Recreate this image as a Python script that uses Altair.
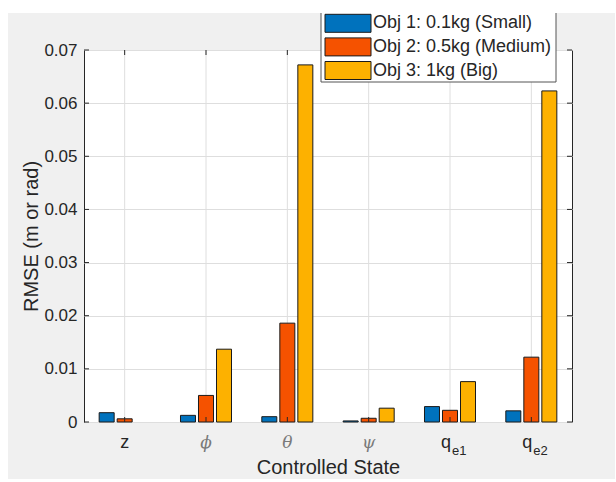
import altair as alt
import pandas as pd

# Controlled states and RMSE per object
states = ["z", "phi", "theta", "psi", "qe1", "qe2"]
series = ["Obj 1: 0.1kg (Small)", "Obj 2: 0.5kg (Medium)", "Obj 3: 1kg (Big)"]
obj1 = [0.00175, 0.00125, 0.0010, 0.0002, 0.0029, 0.0021]
obj2 = [0.0006, 0.0050, 0.0186, 0.0007, 0.0022, 0.0122]
obj3 = [0.0, 0.0137, 0.0672, 0.0026, 0.0076, 0.0623]
colors = ["#0072BD", "#F55200", "#FDB100"]

# Category tick labels: main glyph, subscript, greek flag
tick_main = ["z", "ϕ", "θ", "ψ", "q", "q"]
tick_sub = ["", "", "", "", "e1", "e2"]
tick_greek = [False, True, True, True, False, False]

y_ticks = [0, 0.01, 0.02, 0.03, 0.04, 0.05, 0.06, 0.07]

W, H = 488, 372

rows = []
for s, vals in zip(series, [obj1, obj2, obj3]):
    for st, v in zip(states, vals):
        rows.append({"state": st, "series": s, "value": v})
bars_df = pd.DataFrame(rows)

labels_df = pd.DataFrame({"state": states, "main": tick_main, "sub": tick_sub, "greek": tick_greek})
legend_df = pd.DataFrame({"series": series, "i": list(range(len(series)))})
yt_df = pd.DataFrame({"v": y_ticks})
st_df = pd.DataFrame({"state": states})

x_scale = alt.Scale(domain=states, paddingInner=0.336, paddingOuter=0.168)
y_scale = alt.Scale(domain=[0, 0.07])
c_scale = alt.Scale(domain=series, range=colors)
grid_color = "#dedede"
ink = "#262626"

x_axis = alt.Axis(labels=False, ticks=False, domain=False, grid=False,
                  title="Controlled State", titleFontSize=20, titleFont="Liberation Sans",
                  titleFontWeight="normal", titleColor=ink,
                  titleX=W / 2, titleY=45, titleAlign="center", titleBaseline="middle")
y_axis = alt.Axis(values=y_ticks, format="~g", ticks=False, domain=False, grid=True,
                  gridColor=grid_color, labelFontSize=17, labelFont="Liberation Sans",
                  labelColor=ink, labelPadding=7,
                  title="RMSE (m or rad)", titleFontSize=20, titleFont="Liberation Sans",
                  titleFontWeight="normal", titleColor=ink,
                  titleX=-53, titleY=H / 2, titleAngle=-90,
                  titleAlign="center", titleBaseline="middle")

# vertical grid lines at category centres
xgrid = alt.Chart(st_df).mark_rule(color=grid_color, strokeWidth=1).encode(
    x=alt.X("state:N", scale=x_scale, axis=x_axis),
    y=alt.value(0), y2=alt.value(H),
)

# grouped bars (empty values are not drawn)
bars = alt.Chart(bars_df).transform_filter("datum.value > 0").mark_bar(
    stroke="#1a1a1a", strokeWidth=1
).encode(
    x=alt.X("state:N", scale=x_scale, axis=x_axis),
    xOffset=alt.XOffset("series:N", sort=series,
                        scale=alt.Scale(domain=series, paddingInner=0.167, paddingOuter=0.083)),
    y=alt.Y("value:Q", scale=y_scale, axis=y_axis),
    color=alt.Color("series:N", scale=c_scale, legend=None),
)

# inward ticks on all four sides
yt_left = alt.Chart(yt_df).mark_rule(color=ink).encode(
    y=alt.Y("v:Q", scale=y_scale, axis=y_axis), x=alt.value(0), x2=alt.value(5))
yt_right = alt.Chart(yt_df).mark_rule(color=ink).encode(
    y=alt.Y("v:Q", scale=y_scale, axis=y_axis), x=alt.value(W - 5), x2=alt.value(W))
xt_bottom = alt.Chart(st_df).mark_rule(color=ink).encode(
    x=alt.X("state:N", scale=x_scale, axis=x_axis), y=alt.value(H - 5), y2=alt.value(H))
xt_top = alt.Chart(st_df).mark_rule(color=ink).encode(
    x=alt.X("state:N", scale=x_scale, axis=x_axis), y=alt.value(0), y2=alt.value(5))

# category labels with subscripts
lab_latin = alt.Chart(labels_df).transform_filter("!datum.greek && datum.sub == ''").mark_text(
    font="Liberation Sans", fontSize=18, color=ink, baseline="alphabetic", align="center"
).encode(x=alt.X("state:N", scale=x_scale, axis=x_axis), y=alt.value(H + 26), text="main:N")
lab_greek = alt.Chart(labels_df).transform_filter("datum.greek").mark_text(
    font="DejaVu Serif", fontStyle="italic", fontSize=17, color="#7a7a7a",
    baseline="alphabetic", align="center"
).encode(x=alt.X("state:N", scale=x_scale, axis=x_axis), y=alt.value(H + 26), text="main:N")
lab_q = alt.Chart(labels_df).transform_filter("datum.sub != ''").mark_text(
    font="Liberation Sans", fontSize=18, color=ink, baseline="alphabetic", align="right", dx=1
).encode(x=alt.X("state:N", scale=x_scale, axis=x_axis), y=alt.value(H + 26), text="main:N")
lab_sub = alt.Chart(labels_df).transform_filter("datum.sub != ''").mark_text(
    font="Liberation Sans", fontSize=13, color=ink, baseline="alphabetic", align="left", dx=2
).encode(x=alt.X("state:N", scale=x_scale, axis=x_axis), y=alt.value(H + 33), text="sub:N")

# legend box
leg_box = alt.Chart(legend_df).transform_filter("datum.i == 0").mark_rect(
    fill="white", stroke="#555555", strokeWidth=1
).encode(x=alt.value(237), x2=alt.value(472), y=alt.value(-50), y2=alt.value(32))
leg_sw = alt.Chart(legend_df).transform_calculate(
    t="-35.7 + datum.i * 23.6", b="-17.7 + datum.i * 23.6"
).mark_rect(stroke="#1a1a1a", strokeWidth=1).encode(
    x=alt.value(241), x2=alt.value(287),
    y=alt.Y("t:Q", scale=None), y2="b:Q",
    color=alt.Color("series:N", scale=c_scale, legend=None),
)
leg_tx = alt.Chart(legend_df).transform_calculate(
    ty="-26.7 + datum.i * 23.6"
).mark_text(font="Liberation Sans", fontSize=18, color=ink, align="left", baseline="middle").encode(
    x=alt.value(289), y=alt.Y("ty:Q", scale=None), text="series:N")

# white page margin on the top and left edges
strip_top = alt.Chart(st_df).transform_filter("datum.state == 'z'").mark_rect(fill="white").encode(
    x=alt.value(-84), x2=alt.value(532), y=alt.value(-50), y2=alt.value(-37))
strip_left = alt.Chart(st_df).transform_filter("datum.state == 'z'").mark_rect(fill="white").encode(
    x=alt.value(-84), x2=alt.value(-76), y=alt.value(-50), y2=alt.value(432))

chart = alt.layer(
    xgrid, bars, yt_left, yt_right, xt_bottom, xt_top,
    lab_latin, lab_greek, lab_q, lab_sub,
    leg_box, leg_sw, leg_tx, strip_top, strip_left,
).properties(
    width=W, height=H,
    autosize=alt.AutoSizeParams(type="none"),
    padding={"left": 84, "top": 50, "right": 43, "bottom": 57},
    background="#f0f0f0",
).configure_view(fill="white", stroke=ink, strokeWidth=1)

chart.save("out.html", embed_options={"renderer": "svg", "actions": False})
